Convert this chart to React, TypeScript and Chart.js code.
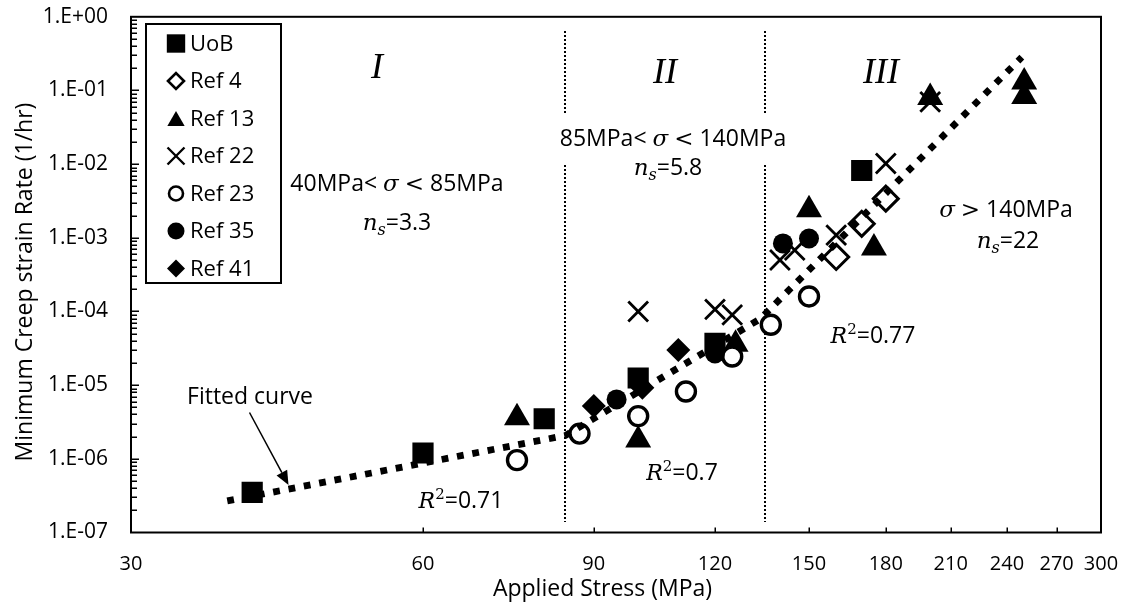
import React, { useEffect, useRef } from 'react';
import { Chart, registerables } from 'chart.js';

Chart.register(...registerables);

// ---------------- data ----------------
const xTickValues = [30, 60, 90, 120, 150, 180, 210, 240, 270, 300];
const yTickValues = [1e-7, 1e-6, 1e-5, 1e-4, 1e-3, 1e-2, 1e-1, 1];
const yTickLabels = ['1.E-07', '1.E-06', '1.E-05', '1.E-04', '1.E-03', '1.E-02', '1.E-01', '1.E+00'];

const seriesNames = ['UoB', 'Ref 4', 'Ref 13', 'Ref 22', 'Ref 23', 'Ref 35', 'Ref 41'];

const uobStress = [40, 60, 80, 100, 120, 170];
const uobRate = [3.5e-7, 1.2e-6, 3.5e-6, 1.25e-5, 3.7e-5, 8.2e-3];
const ref4Stress = [160, 170, 180];
const ref4Rate = [5.5e-4, 1.55e-3, 3.4e-3];
const ref13Stress = [75, 100, 126, 150, 175, 200, 250, 250];
const ref13Rate = [3.6e-6, 1.8e-6, 3.6e-5, 2.4e-3, 7.3e-4, 8.0e-2, 1.3e-1, 8.3e-2];
const ref22Stress = [100, 120, 125, 140, 145, 160, 180, 200];
const ref22Rate = [1.0e-4, 1.07e-4, 9.0e-5, 5.0e-4, 6.8e-4, 1.09e-3, 1.02e-2, 7.0e-2];
const ref23Stress = [75, 87, 100, 112, 125, 137, 150];
const ref23Rate = [9.6e-7, 2.2e-6, 3.8e-6, 8.2e-6, 2.45e-5, 6.6e-5, 1.6e-4];
const ref35Stress = [95, 120, 141, 150];
const ref35Rate = [6.4e-6, 2.7e-5, 8.4e-4, 9.8e-4];
const ref41Stress = [90, 101, 110];
const ref41Rate = [5.2e-6, 9.2e-6, 3.0e-5];

const fitStress = [37.7, 84.1, 133.6, 248.6];
const fitRate = [2.68e-7, 2.07e-6, 7.94e-5, 0.283];

const regionBounds = [84, 135];
const separatorSpans = [
  [0.646, 0.047],
  [0.0098, 1.4e-7],
];

// ---------------- styles ----------------
const SANS = '"Open Sans"';
const MATH = '"DejaVu Serif"';
const sans = (px: number) => `${px}px ${SANS}`;
const mathI = (px: number) => `italic ${px}px ${MATH}`;
const mathR = (px: number) => `${px}px ${MATH}`;
const roman = 'italic 36px "Liberation Serif"';

type MarkerStyle = {
  pointStyle: string;
  radius: number;
  fill: string;
  stroke: string;
  width: number;
  legendRadius: number;
};

const markerStyles: MarkerStyle[] = [
  { pointStyle: 'rect', radius: 15, fill: '#000', stroke: '#000', width: 0, legendRadius: 13 },
  { pointStyle: 'rectRot', radius: 12.5, fill: '#fff', stroke: '#000', width: 3, legendRadius: 8 },
  { pointStyle: 'triangle', radius: 15, fill: '#000', stroke: '#000', width: 0, legendRadius: 10 },
  { pointStyle: 'crossRot', radius: 14, fill: '#000', stroke: '#000', width: 2.8, legendRadius: 12 },
  { pointStyle: 'circle', radius: 9.5, fill: '#fff', stroke: '#000', width: 3.4, legendRadius: 7 },
  { pointStyle: 'circle', radius: 10, fill: '#000', stroke: '#000', width: 0, legendRadius: 8.5 },
  { pointStyle: 'rectRot', radius: 12, fill: '#000', stroke: '#000', width: 0, legendRadius: 9 },
];

const seriesStress = [uobStress, ref4Stress, ref13Stress, ref22Stress, ref23Stress, ref35Stress, ref41Stress];
const seriesRate = [uobRate, ref4Rate, ref13Rate, ref22Rate, ref23Rate, ref35Rate, ref41Rate];

const pts = (xs: number[], ys: number[]) => xs.map((x, i) => ({ x, y: ys[i] }));

type Run = { t: string; f: string; dy?: number };

function drawRuns(ctx: CanvasRenderingContext2D, runs: Run[], cx: number, baseline: number) {
  let total = 0;
  const widths = runs.map((r) => {
    ctx.font = r.f;
    const w = ctx.measureText(r.t).width;
    total += w;
    return w;
  });
  let x = cx - total / 2;
  ctx.textAlign = 'left';
  ctx.textBaseline = 'alphabetic';
  runs.forEach((r, i) => {
    ctx.font = r.f;
    ctx.fillText(r.t, x, baseline + (r.dy || 0));
    x += widths[i];
  });
}

function drawMarker(ctx: CanvasRenderingContext2D, m: MarkerStyle, x: number, y: number, r: number) {
  ctx.save();
  ctx.beginPath();
  switch (m.pointStyle) {
    case 'rect': {
      const s = r * Math.SQRT1_2;
      ctx.rect(x - s, y - s, 2 * s, 2 * s);
      break;
    }
    case 'rectRot':
      ctx.moveTo(x - r, y);
      ctx.lineTo(x, y - r);
      ctx.lineTo(x + r, y);
      ctx.lineTo(x, y + r);
      ctx.closePath();
      break;
    case 'triangle': {
      const yc = y + 0.25 * r;
      ctx.moveTo(x, yc - r);
      ctx.lineTo(x + 0.866 * r, yc + 0.5 * r);
      ctx.lineTo(x - 0.866 * r, yc + 0.5 * r);
      ctx.closePath();
      break;
    }
    case 'crossRot': {
      const d = r * Math.SQRT1_2;
      ctx.moveTo(x - d, y - d);
      ctx.lineTo(x + d, y + d);
      ctx.moveTo(x + d, y - d);
      ctx.lineTo(x - d, y + d);
      break;
    }
    default:
      ctx.arc(x, y, r, 0, Math.PI * 2);
  }
  if (m.pointStyle !== 'crossRot') {
    ctx.fillStyle = m.fill;
    ctx.fill();
  }
  if (m.width > 0) {
    ctx.lineWidth = m.pointStyle === 'crossRot' ? 2.4 : 2.6;
    ctx.strokeStyle = m.stroke;
    ctx.stroke();
  }
  ctx.restore();
}

const annotations: { cx: number; by: number; runs: Run[] }[] = [
  { cx: 377, by: 78, runs: [{ t: 'I', f: roman }] },
  { cx: 665, by: 83, runs: [{ t: 'II', f: roman }] },
  { cx: 881, by: 83, runs: [{ t: 'III', f: roman }] },
  {
    cx: 397, by: 191,
    runs: [
      { t: '40MPa<', f: sans(23) }, { t: ' ', f: sans(23) }, { t: 'σ', f: mathI(23) },
      { t: ' ', f: sans(23) }, { t: '<', f: mathR(23) }, { t: ' ', f: sans(23) }, { t: '85MPa', f: sans(23) },
    ],
  },
  {
    cx: 397, by: 230,
    runs: [{ t: 'n', f: mathI(23) }, { t: 's', f: mathI(16), dy: 5 }, { t: '=3.3', f: sans(23) }],
  },
  {
    cx: 673, by: 146,
    runs: [
      { t: '85MPa<', f: sans(23) }, { t: ' ', f: sans(23) }, { t: 'σ', f: mathI(23) },
      { t: ' ', f: sans(23) }, { t: '<', f: mathR(23) }, { t: ' ', f: sans(23) }, { t: '140MPa', f: sans(23) },
    ],
  },
  {
    cx: 668, by: 175,
    runs: [{ t: 'n', f: mathI(23) }, { t: 's', f: mathI(16), dy: 5 }, { t: '=5.8', f: sans(23) }],
  },
  {
    cx: 1006, by: 217,
    runs: [
      { t: 'σ', f: mathI(23) }, { t: ' ', f: sans(23) }, { t: '>', f: mathR(23) },
      { t: ' ', f: sans(23) }, { t: '140MPa', f: sans(23) },
    ],
  },
  {
    cx: 1008, by: 248,
    runs: [{ t: 'n', f: mathI(23) }, { t: 's', f: mathI(16), dy: 5 }, { t: '=22', f: sans(23) }],
  },
  {
    cx: 461, by: 508,
    runs: [{ t: 'R', f: mathI(22) }, { t: '2', f: mathR(15), dy: -9 }, { t: '=0.71', f: sans(23) }],
  },
  {
    cx: 682, by: 480,
    runs: [{ t: 'R', f: mathI(22) }, { t: '2', f: mathR(15), dy: -9 }, { t: '=0.7', f: sans(23) }],
  },
  {
    cx: 873, by: 343,
    runs: [{ t: 'R', f: mathI(22) }, { t: '2', f: mathR(15), dy: -9 }, { t: '=0.77', f: sans(23) }],
  },
  { cx: 250, by: 404, runs: [{ t: 'Fitted curve', f: sans(23) }] },
];

const overlayPlugin = {
  id: 'overlay',
  beforeDatasetsDraw(chart: any) {
    const { ctx, scales } = chart;
    const xs = scales.x;
    const ys = scales.y;
    ctx.save();
    ctx.strokeStyle = '#000';
    ctx.lineWidth = 2;
    ctx.setLineDash([2, 2]);
    for (const v of regionBounds) {
      const px = Math.round(xs.getPixelForValue(v));
      for (const [a, b] of separatorSpans) {
        ctx.beginPath();
        ctx.moveTo(px, Math.round(ys.getPixelForValue(a)));
        ctx.lineTo(px, Math.round(ys.getPixelForValue(b)));
        ctx.stroke();
      }
    }
    ctx.restore();
  },
  afterDraw(chart: any) {
    const { ctx, chartArea, scales } = chart;
    const xs = scales.x;
    const ys = scales.y;
    const { left, right, top, bottom } = chartArea;
    ctx.save();
    ctx.fillStyle = '#000';
    ctx.strokeStyle = '#000';

    // plot frame
    ctx.lineWidth = 2;
    ctx.strokeRect(left, top, right - left, bottom - top);

    // y ticks (inside)
    ctx.lineWidth = 1.5;
    ctx.beginPath();
    for (let d = -7; d < 0; d++) {
      for (let m = 1; m <= 9; m++) {
        const v = m * Math.pow(10, d);
        if (d === -7 && m === 1) continue;
        const py = Math.round(ys.getPixelForValue(v)) + 0.25;
        const len = m === 1 ? 8 : 6;
        ctx.moveTo(left, py);
        ctx.lineTo(left + len, py);
      }
    }
    ctx.stroke();

    // x ticks (inside)
    ctx.beginPath();
    for (const v of xTickValues.slice(1, -1)) {
      const px = Math.round(xs.getPixelForValue(v)) + 0.25;
      ctx.moveTo(px, bottom);
      ctx.lineTo(px, bottom - 5);
    }
    ctx.stroke();

    // legend
    const lb = { x: 146, y: 24, w: 135, h: 259 };
    ctx.fillStyle = '#fff';
    ctx.fillRect(lb.x, lb.y, lb.w, lb.h);
    ctx.lineWidth = 2;
    ctx.strokeRect(lb.x, lb.y, lb.w, lb.h);
    seriesNames.forEach((name, i) => {
      const cy = 43.5 + i * 37.5;
      drawMarker(ctx, markerStyles[i], 176, cy, markerStyles[i].legendRadius);
      ctx.fillStyle = '#000';
      ctx.font = sans(22);
      ctx.textAlign = 'left';
      ctx.textBaseline = 'middle';
      ctx.fillText(name, 190, cy + 1);
    });

    // annotations
    ctx.fillStyle = '#000';
    for (const a of annotations) drawRuns(ctx, a.runs, a.cx, a.by);

    // arrow to fitted curve
    const ax0 = 249.5, ay0 = 412.5, ax1 = 288.5, ay1 = 485;
    const ang = Math.atan2(ay1 - ay0, ax1 - ax0);
    const hl = 14, hw = 6;
    const bx = ax1 - hl * Math.cos(ang), by = ay1 - hl * Math.sin(ang);
    ctx.lineWidth = 1.5;
    ctx.beginPath();
    ctx.moveTo(ax0, ay0);
    ctx.lineTo(bx, by);
    ctx.stroke();
    ctx.beginPath();
    ctx.moveTo(ax1, ay1);
    ctx.lineTo(bx + hw * Math.sin(ang), by - hw * Math.cos(ang));
    ctx.lineTo(bx - hw * Math.sin(ang), by + hw * Math.cos(ang));
    ctx.closePath();
    ctx.fill();

    // axis titles
    ctx.font = sans(23);
    ctx.textAlign = 'center';
    ctx.textBaseline = 'alphabetic';
    ctx.fillText('Applied Stress (MPa)', 602.5, 596);
    ctx.save();
    ctx.translate(32, 282);
    ctx.rotate(-Math.PI / 2);
    ctx.fillText('Minimum Creep strain Rate (1/hr)', 0, 0);
    ctx.restore();

    ctx.restore();
  },
};

export default function App() {
  const ref = useRef<HTMLCanvasElement>(null);

  useEffect(() => {
    const canvas = ref.current;
    if (!canvas) return;

    const datasets: any[] = [
      {
        label: 'Fitted curve',
        data: pts(fitStress, fitRate),
        showLine: true,
        borderColor: '#000',
        borderWidth: 6.8,
        borderDash: [6.8, 8.8],
        borderCapStyle: 'butt',
        pointRadius: 0,
        fill: false,
        order: 0,
      },
      ...seriesNames.map((name, i) => ({
        label: name,
        data: pts(seriesStress[i], seriesRate[i]),
        showLine: false,
        pointStyle: markerStyles[i].pointStyle,
        pointRadius: markerStyles[i].radius,
        pointBackgroundColor: markerStyles[i].fill,
        pointBorderColor: markerStyles[i].stroke,
        pointBorderWidth: markerStyles[i].width,
        order: seriesNames.length - i,
      })),
    ];

    const chart = new Chart(canvas, {
      type: 'scatter',
      data: { datasets },
      options: {
        responsive: false,
        animation: false,
        devicePixelRatio: 1,
        events: [],
        layout: { padding: { top: 16, right: 22, left: 0, bottom: 0 } },
        plugins: { legend: { display: false }, tooltip: { enabled: false } },
        scales: {
          x: {
            type: 'logarithmic',
            min: 30,
            max: 300,
            position: 'bottom',
            afterBuildTicks: (s: any) => {
              s.ticks = xTickValues.map((v) => ({ value: v }));
            },
            afterFit: (s: any) => {
              s.height = 73.5;
              s.paddingLeft = 0;
              s.paddingRight = 0;
            },
            ticks: {
              autoSkip: false,
              maxRotation: 0,
              minRotation: 0,
              padding: 20,
              color: '#000',
              font: { family: SANS, size: 20 },
              callback: (v: any) => String(v),
            },
            grid: { display: false, drawTicks: false },
            border: { display: false },
          },
          y: {
            type: 'logarithmic',
            min: 1e-7,
            max: 1,
            afterBuildTicks: (s: any) => {
              s.ticks = yTickValues.map((v) => ({ value: v }));
            },
            afterFit: (s: any) => {
              s.width = 131;
              s.paddingTop = 0;
              s.paddingBottom = 0;
            },
            ticks: {
              autoSkip: false,
              padding: 23,
              color: '#000',
              font: { family: SANS, size: 21 },
              callback: (_v: any, i: number) => yTickLabels[i],
            },
            grid: { display: false, drawTicks: false },
            border: { display: false },
          },
        },
      },
      plugins: [overlayPlugin],
    } as any);

    return () => chart.destroy();
  }, []);

  return (
    <div style={{ position: 'absolute', left: 0, top: 0, width: 1123, height: 606, background: '#fff' }}>
      <canvas ref={ref} width={1123} height={606} style={{ display: 'block', width: 1123, height: 606 }} />
    </div>
  );
}
